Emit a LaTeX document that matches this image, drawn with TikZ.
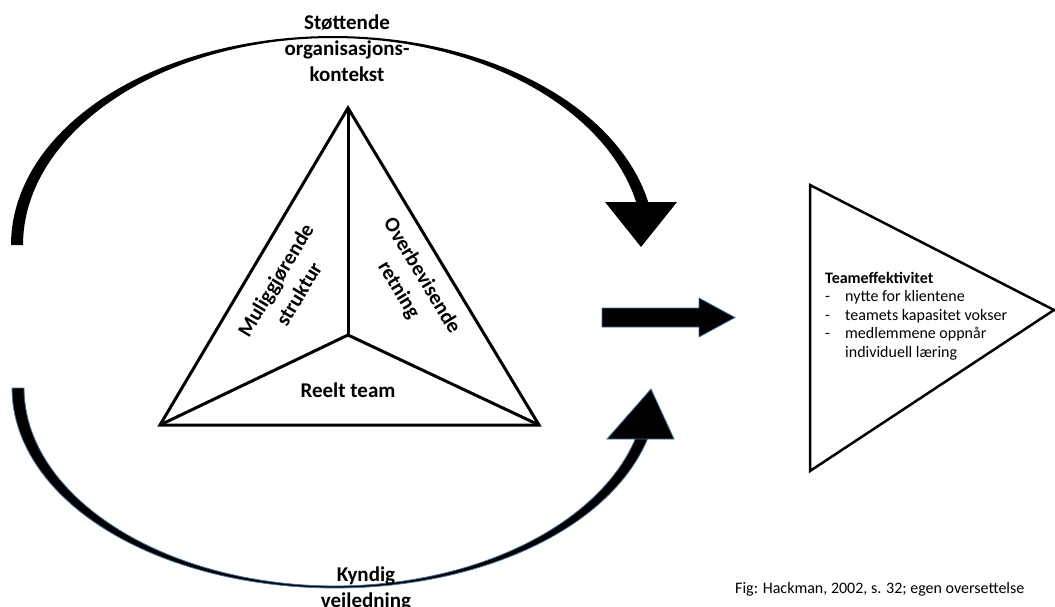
\documentclass[tikz,border=0pt]{standalone}
\usepackage{fontspec}
\setmainfont{Carlito}
\definecolor{olblue}{RGB}{65,113,156}
\tikzset{
  lab/.style={font=\bfseries\fontsize{21}{26}\selectfont, align=center, inner sep=0pt},
  rotlab/.style={font=\bfseries\fontsize{21}{27}\selectfont, align=center, inner sep=0pt},
  smalltxt/.style={font=\fontsize{16}{18.4}\selectfont, inner sep=0pt},
  thickline/.style={line width=3pt, line join=miter},
  bluedge/.style={fill=black, draw=olblue, line width=0.8pt}
}
\begin{document}
\begin{tikzpicture}[x=1pt,y=-1pt]
\useasboundingbox (0,0) rectangle (1055,607);

% top tapered arc
\fill[black] plot[domain=180:10,samples=90]
  ({333+(316+1+5*cos(\x)*cos(\x))*cos(\x)},{245-(208+1+5*cos(\x)*cos(\x))*sin(\x)})
  -- plot[domain=10:180,samples=90]
  ({333+(316-1-5*cos(\x)*cos(\x))*cos(\x)},{245-(208-1-5*cos(\x)*cos(\x))*sin(\x)})
  -- cycle;
\coordinate (th1) at (605,202);
\coordinate (th2) at (677,202);
\coordinate (th3) at (641,247);
\fill[black] (th1) -- (th2) -- (th3) -- cycle;

% bottom tapered arc
\filldraw[bluedge] plot[domain=180:14,samples=90]
  ({335+(317+1+5*cos(\x)*cos(\x))*cos(\x)},{388+(199+1+5*cos(\x)*cos(\x))*sin(\x)})
  -- plot[domain=14:180,samples=90]
  ({335+(317-1-5*cos(\x)*cos(\x))*cos(\x)},{388+(199-1-5*cos(\x)*cos(\x))*sin(\x)})
  -- cycle;
\coordinate (bh1) at (607,439);
\coordinate (bh2) at (674,439);
\coordinate (bh3) at (651,389);
\filldraw[bluedge] (bh1) -- (bh2) -- (bh3) -- cycle;

% middle block arrow
\filldraw[bluedge] (602,308) -- (699,308) -- (699,298) -- (735,317.5)
  -- (699,337) -- (699,327) -- (602,327) -- cycle;

% central triangle
\coordinate (A) at (348,108);
\coordinate (B) at (160,425);
\coordinate (C) at (539,425);
\coordinate (O) at (348,335);
\draw[thickline] (A) -- (B) -- (C) -- cycle;
\draw[thickline] (O) -- (A);
\draw[thickline] (O) -- (B);
\draw[thickline] (O) -- (C);

\node[rotlab, rotate=59] (mul) at (287,287) {Muliggjørende\\struktur};
\node[rotlab, rotate=-59] (ove) at (410,283) {Overbevisende\\retning};
\node[lab] (reelt) at (348,390) {Reelt team};

\node[lab] (top) at (347,48) {Støttende\\organisasjons-\\kontekst};
\node[lab] (bottom) at (366,589) {Kyndig\\veiledning};

% result triangle
\coordinate (R1) at (810,185);
\coordinate (R2) at (810,471);
\coordinate (R3) at (1054,310);
\draw[line width=2.5pt, line join=miter] (R1) -- (R2) -- (R3) -- cycle;

\node[smalltxt, anchor=west, align=left] (eff) at (825,316)
 {\textbf{Teameffektivitet}\\
  \makebox[20pt][l]{-}nytte for klientene\\
  \makebox[20pt][l]{-}teamets kapasitet vokser\\
  \makebox[20pt][l]{-}medlemmene oppnår\\
  \makebox[20pt][l]{}individuell læring};

\node[smalltxt, anchor=west] (cap) at (735,589) {Fig: Hackman, 2002, s. 32; egen oversettelse};
\end{tikzpicture}
\end{document}
